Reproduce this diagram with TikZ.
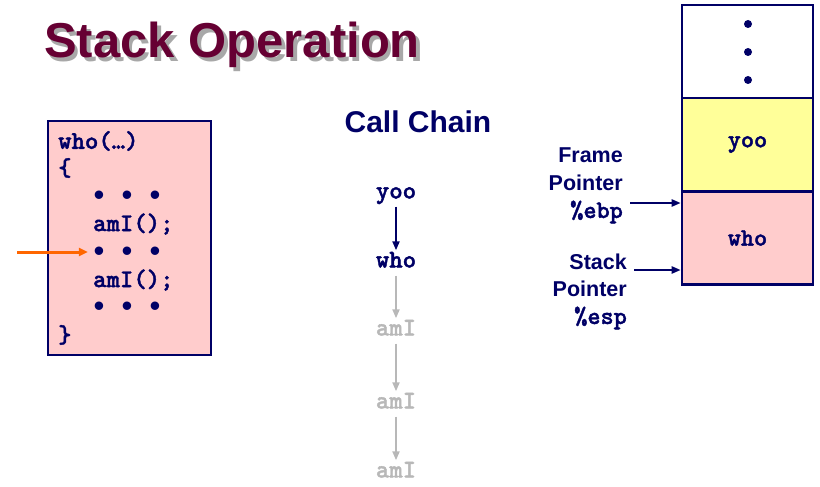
\documentclass[tikz,border=0pt]{standalone}
\usepackage{fontspec}
\setmainfont{Liberation Sans}
\newfontfamily\codefont{lmmonolt10-bold}[Extension=.otf, FakeBold=1.6]
\usetikzlibrary{arrows.meta}

\definecolor{navy}{HTML}{000066}
\definecolor{maroon}{HTML}{660033}
\definecolor{shadowgray}{HTML}{A8A8A8}
\definecolor{framepink}{HTML}{FFCCCC}
\definecolor{frameyellow}{HTML}{FFFF99}
\definecolor{pcorange}{HTML}{FF6600}
\definecolor{fadegray}{HTML}{B8B8B8}

\newcommand{\dotrow}{\makebox[28pt]{•}\makebox[28pt]{•}\makebox[28pt]{•}}

\tikzset{
  titletext/.style={text=maroon, font=\fontsize{49}{56}\selectfont\bfseries, inner sep=0pt},
  titleshadow/.style={text=shadowgray, font=\fontsize{49}{56}\selectfont\bfseries, inner sep=0pt},
  heading/.style={text=navy, font=\fontsize{30}{34}\selectfont\bfseries, inner sep=0pt},
  label/.style={text=navy, font=\fontsize{21.5}{25}\selectfont\bfseries, inner sep=0pt},
  reg/.style={text=navy, font=\fontsize{25}{28}\codefont, inner sep=0pt},
  codeline/.style={text=navy, font=\fontsize{25.5}{28}\codefont, inner sep=0pt, anchor=west},
  dotline/.style={text=navy, font=\fontsize{31}{34}\selectfont, inner sep=0pt, anchor=base,
    text height=14pt, text depth=0pt},
  codebox/.style={draw=navy, line width=2.4pt, fill=framepink, minimum width=163pt, minimum height=234pt, inner sep=0pt},
  chain/.style={font=\fontsize{25.5}{28}\codefont, text height=14pt, text depth=5pt, inner xsep=0pt, inner ysep=3pt},
  active/.style={chain, text=navy},
  faded/.style={chain, text=fadegray},
  callarrow/.style={draw=navy, line width=2pt, -{Triangle[length=9pt,width=7pt]}},
  fadearrow/.style={draw=fadegray, line width=2pt, -{Triangle[length=9pt,width=7pt]}},
  pcarrow/.style={draw=pcorange, line width=3pt, -{Triangle[length=9pt,width=8pt]}},
  ptrarrow/.style={draw=navy, line width=2.2pt, -{Triangle[length=9pt,width=7pt]}},
  stackcell/.style={draw=navy, line width=2.6pt, minimum width=131pt, minimum height=93pt, inner sep=0pt,
    font=\fontsize{25}{28}\codefont, text=navy},
  stackdot/.style={fill=navy, draw=none, circle, minimum size=8pt, inner sep=0pt}
}

\begin{document}
\begin{tikzpicture}[x=1pt, y=-1pt]
\useasboundingbox (0,0) rectangle (820,487);

% title with drop shadow
\node[titleshadow, anchor=base west] (titleshade) at (47.5,61.5) {Stack Operation};
\node[titletext, anchor=base west] (title) at (44,58) {Stack Operation};

% code of procedure who
\node[codebox] (code) at (129.5,238) {};
\node[codeline] (l1) at (58,141) {who(…)};
\node[codeline] (l2) at (58,168) {\{};
\node[dotline] (l3) at (127,205) {\dotrow};
\node[codeline] (l4) at (93,224) {amI();};
\node[dotline] (l5) at (127,261) {\dotrow};
\node[codeline] (l6) at (93,280) {amI();};
\node[dotline] (l7) at (127,316) {\dotrow};
\node[codeline] (l8) at (58,335) {\}};

% current position in the code
\coordinate (pcstart) at (17,252);
\draw[pcarrow] (pcstart) -- ([xshift=3pt]l5.west |- pcstart);

% call chain
\node[heading] (chainhead) at (418,122) {Call Chain};
\node[active] (c1) at (396,194) {yoo};
\node[active] (c2) at (396,263) {who};
\node[faded]  (c3) at (396,331) {amI};
\node[faded]  (c4) at (396,404) {amI};
\node[faded]  (c5) at (396,473) {amI};
\draw[callarrow] (c1) -- (c2);
\draw[fadearrow] (c2) -- (c3);
\draw[fadearrow] (c3) -- (c4);
\draw[fadearrow] (c4) -- (c5);

% stack frames
\node[stackcell, fill=white] (s0) at (747.5,51.5) {};
\node[stackcell, fill=frameyellow] (s1) at (747.5,144.5) {yoo};
\node[stackcell, fill=framepink] (s2) at (747.5,238) {who};
\node[stackdot] (d1) at (748,24) {};
\node[stackdot] (d2) at (748,52) {};
\node[stackdot] (d3) at (748,80) {};

% frame pointer
\node[label, anchor=east] (fp1) at (623,155) {Frame};
\node[label, anchor=east] (fp2) at (623,183) {Pointer};
\node[reg, anchor=east] (fp3) at (623,212) {\%ebp};
\coordinate (fpstart) at (630,203);
\draw[ptrarrow] (fpstart) -- (s2.west |- fpstart);

% stack pointer
\node[label, anchor=east] (sp1) at (627,262) {Stack};
\node[label, anchor=east] (sp2) at (627,289) {Pointer};
\node[reg, anchor=east] (sp3) at (627,318) {\%esp};
\coordinate (spstart) at (634,270);
\draw[ptrarrow] (spstart) -- (s2.west |- spstart);
\end{tikzpicture}
\end{document}
